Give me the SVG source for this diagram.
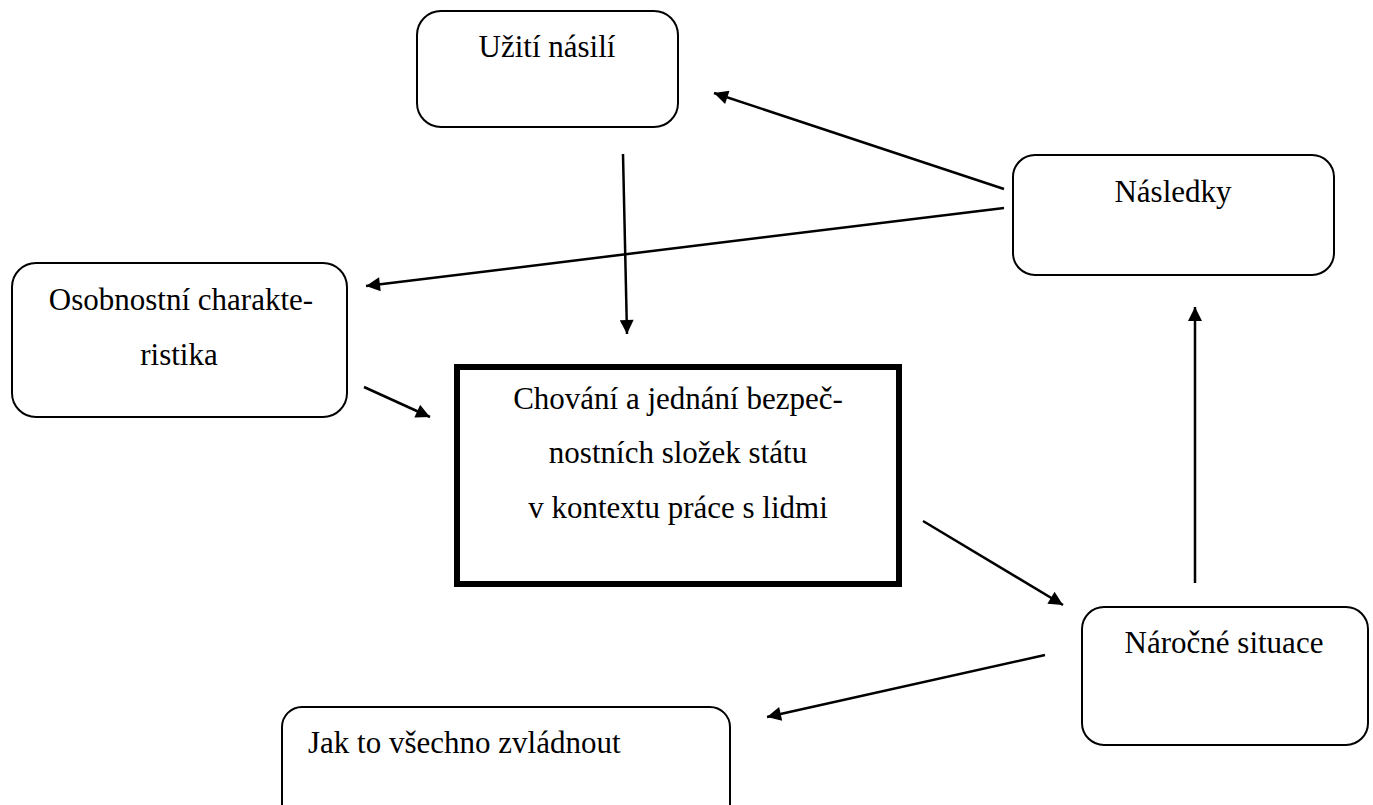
<svg xmlns="http://www.w3.org/2000/svg" width="1373" height="805" viewBox="0 0 1373 805">
<style>
.box{fill:#fff;stroke:#000;stroke-width:2}
.main{fill:#fff;stroke:#000;stroke-width:6}
text{font-family:"Liberation Serif","Times New Roman",serif;font-size:31px;fill:#000}
.c{text-anchor:middle}
.ln{stroke:#000;stroke-width:2.5;fill:none;marker-end:url(#ah)}
</style>
<defs>
<marker id="ah" viewBox="0 0 10 10" refX="10" refY="5" markerUnits="userSpaceOnUse" markerWidth="17" markerHeight="14" orient="auto">
<path d="M0,0 L10,5 L0,10 z" fill="#000"/>
</marker>
</defs>
<rect width="1373" height="805" fill="#fff"/>
<g id="uziti">
<rect class="box" x="417" y="11" width="261" height="116" rx="24"/>
<text class="c" x="547" y="57">Užití násilí</text>
</g>
<g id="nasledky">
<rect class="box" x="1013" y="155" width="321" height="120" rx="22"/>
<text class="c" x="1173" y="202">Následky</text>
</g>
<g id="osobnostni">
<rect class="box" x="12" y="263" width="335" height="154" rx="24"/>
<text class="c" x="181" y="310">Osobnostní charakte-</text>
<text class="c" x="179" y="365">ristika</text>
</g>
<g id="chovani">
<rect class="main" x="457" y="367" width="442" height="217"/>
<text class="c" x="678" y="409">Chování a jednání bezpeč-</text>
<text class="c" x="678" y="463">nostních složek státu</text>
<text class="c" x="678" y="518">v kontextu práce s lidmi</text>
</g>
<g id="narocne">
<rect class="box" x="1082" y="607" width="286" height="138" rx="22"/>
<text class="c" x="1224" y="653">Náročné situace</text>
</g>
<g id="jak">
<rect class="box" x="282" y="707" width="448" height="130" rx="20"/>
<text x="308" y="753">Jak to všechno zvládnout</text>
</g>
<g id="connectors">
<line class="ln" x1="1004" y1="189" x2="714" y2="93"/>
<line class="ln" x1="1004" y1="208" x2="366" y2="286"/>
<line class="ln" x1="623" y1="154" x2="627" y2="334"/>
<line class="ln" x1="364" y1="387" x2="430" y2="417"/>
<line class="ln" x1="923" y1="521" x2="1063" y2="605"/>
<line class="ln" x1="1195" y1="583" x2="1195" y2="307"/>
<line class="ln" x1="1045" y1="655" x2="767" y2="717"/>
</g>
</svg>
